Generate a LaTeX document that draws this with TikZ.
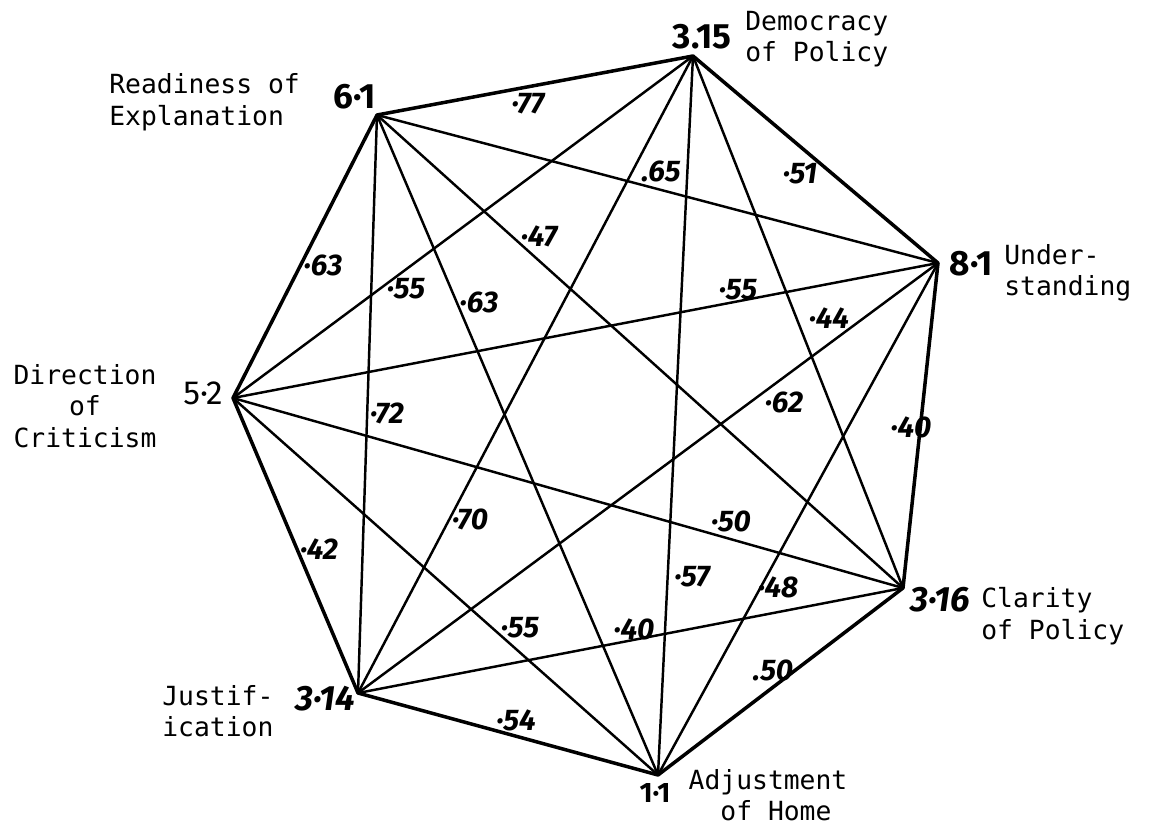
\documentclass[tikz,border=0pt]{standalone}
\usepackage{fontspec}
\setmonofont{DejaVu Sans Mono}
\newfontfamily\handfont{Fira Sans}

\begin{document}
\begin{tikzpicture}[x=0.02cm, y=-0.02cm,
    rim/.style={line width=2pt, line join=round},
    chord/.style={line width=1.4pt},
    vnum/.style={font=\handfont\bfseries\fontsize{20}{20}\selectfont, inner sep=0pt},
    elab/.style={font=\handfont\bfseries\itshape\fontsize{17}{17}\selectfont, inner sep=0pt},
    trait/.style={font=\ttfamily\fontsize{15}{18}\selectfont, inner sep=0pt, align=left}
]
    \useasboundingbox (0,0) rectangle (1153,828);

    % Vertices
    \coordinate (rd) at (377,115);
    \coordinate (dm) at (693,56);
    \coordinate (un) at (938,263);
    \coordinate (cl) at (903,588);
    \coordinate (ad) at (658,775);
    \coordinate (ju) at (358,693);
    \coordinate (di) at (233,398);

    % Scores
    \node[vnum] (n61) at (355,97) {6·1};
    \node[vnum] (n315) at (702,37) {3.15};
    \node[vnum] (n81) at (971,264) {8·1};
    \node[vnum, font=\handfont\bfseries\itshape\fontsize{20}{20}\selectfont] (n316) at (940,600) {3·16};
    \node[vnum, font=\handfont\bfseries\fontsize{16}{16}\selectfont] (n11) at (655,793) {1·1};
    \node[vnum, font=\handfont\bfseries\itshape\fontsize{20}{20}\selectfont] (n314) at (325,699) {3·14};
    \node[vnum, font=\handfont\fontsize{19}{19}\selectfont] (n52) at (203,393) {5·2};

    % Traits
    \node[trait, anchor=west] (t-rd) at (109,102) {Readiness of\\Explanation};
    \node[trait, anchor=west] (t-dm) at (745,39) {Democracy\\of Policy};
    \node[trait, anchor=west] (t-un) at (1004,273) {Under-\\standing};
    \node[trait, anchor=west] (t-cl) at (981,616) {Clarity\\of Policy};
    \node[trait, align=center] (t-ad) at (768,795) {Adjustment\\\ of Home};
    \node[trait, anchor=west] (t-ju) at (162,711) {Justif-\\ication};
    \node[trait, align=center] (t-di) at (85,406) {Direction\\of\\Criticism};

    % Outer edges
    \draw[rim] (rd) -- (dm) -- (un) -- (cl) -- (ad) -- (ju) -- (di) -- cycle;

    % Inner edges
    \draw[chord] (rd) -- (un);
    \draw[chord] (dm) -- (cl);
    \draw[chord] (un) -- (ad);
    \draw[chord] (cl) -- (ju);
    \draw[chord] (ad) -- (di);
    \draw[chord] (ju) -- (rd);
    \draw[chord] (di) -- (dm);
    \draw[chord] (rd) -- (cl);
    \draw[chord] (dm) -- (ad);
    \draw[chord] (un) -- (ju);
    \draw[chord] (cl) -- (di);
    \draw[chord] (ad) -- (rd);
    \draw[chord] (ju) -- (dm);
    \draw[chord] (di) -- (un);

    % Correlations
    \node[elab] (r-rd-dm) at (528,104) {·77};
    \node[elab] (r-dm-un) at (800,174) {·51};
    \node[elab] (r-un-cl) at (911,427) {·40};
    \node[elab] (r-cl-ad) at (773,670) {.50};
    \node[elab] (r-ad-ju) at (516,720) {·54};
    \node[elab] (r-ju-di) at (319,549) {·42};
    \node[elab] (r-di-rd) at (323,265) {·63};
    \node[elab] (r-rd-un) at (661,171) {.65};
    \node[elab] (r-dm-cl) at (829,318) {·44};
    \node[elab] (r-un-ad) at (778,587) {·48};
    \node[elab] (r-cl-ju) at (634,629) {·40};
    \node[elab] (r-ad-di) at (520,628) {·55};
    \node[elab] (r-ju-rd) at (387,413) {·72};
    \node[elab] (r-di-dm) at (406,289) {·55};
    \node[elab] (r-rd-cl) at (539,236) {·47};
    \node[elab] (r-dm-ad) at (692,577) {·57};
    \node[elab] (r-un-ju) at (784,402) {·62};
    \node[elab] (r-cl-di) at (731,521) {·50};
    \node[elab] (r-ad-rd) at (479,302) {·63};
    \node[elab] (r-ju-dm) at (470,519) {·70};
    \node[elab] (r-di-un) at (738,290) {·55};
\end{tikzpicture}
\end{document}
